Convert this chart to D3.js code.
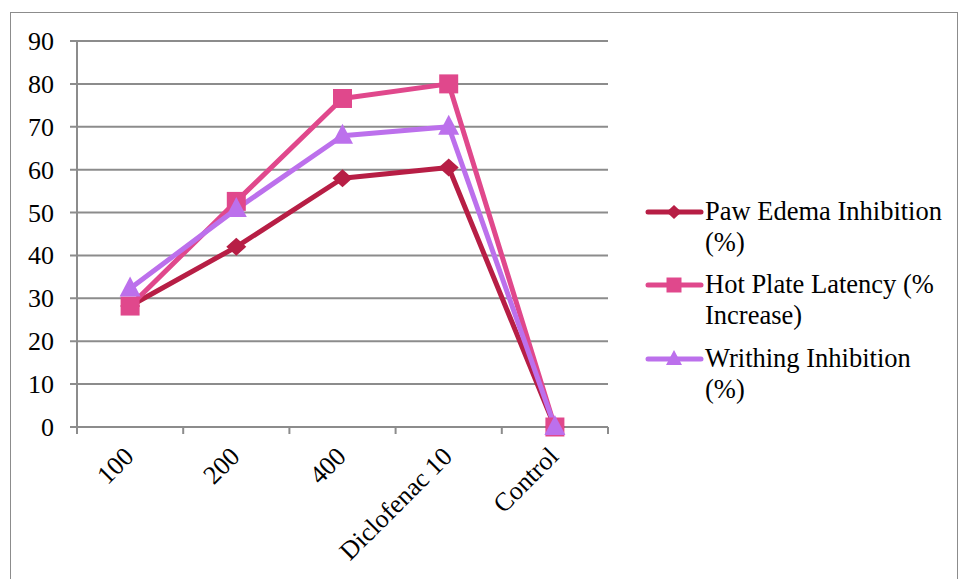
<!DOCTYPE html>
<html><head><meta charset="utf-8">
<script src="https://cdn.jsdelivr.net/npm/d3@7"></script>
<style>body{margin:0;background:#fff}</style>
</head><body><svg id="c" width="960" height="579"></svg>
<script>
const categories = ["100","200","400","Diclofenac 10","Control"];
const pawEdema = [28.2, 42.0, 58.0, 60.5, 0];
const hotPlate = [28.2, 52.6, 76.6, 80.0, 0];
const writhing = [32.3, 50.8, 67.9, 70.0, 0];
const yTicks = [0,10,20,30,40,50,60,70,80,90];
const seriesNames = [["Paw Edema Inhibition","(%)"],["Hot Plate Latency (%","Increase)"],["Writhing Inhibition","(%)"]];
const colors = ["#B71E45","#E0488C","#BC70EC"];
const data = [pawEdema, hotPlate, writhing];
const FF = "'Liberation Serif'";

const diamond = (w,h)=>({draw(c){c.moveTo(0,-h/2);c.lineTo(w/2,0);c.lineTo(0,h/2);c.lineTo(-w/2,0);c.closePath();}});
const square = (w)=>({draw(c){c.rect(-w/2,-w/2,w,w);}});
const tri = (w,h)=>({draw(c){c.moveTo(0,-h*0.6);c.lineTo(w/2,h*0.4);c.lineTo(-w/2,h*0.4);c.closePath();}});
const plotSyms = [diamond(20,18), square(19), tri(21,20)];
const legSyms = [diamond(15,14), square(15), tri(16,15)];

const svg = d3.select("#c");
svg.append("rect").attr("x",10.5).attr("y",12.5).attr("width",947).attr("height",600)
  .attr("fill","none").attr("stroke","#8c8c8c").attr("stroke-width",1);

const x = d3.scaleBand().domain(categories).range([77,608]);
const y = d3.scaleLinear().domain([0,90]).range([427,41]);

svg.append("g").selectAll("line").data(yTicks).join("line")
  .attr("x1",70).attr("x2",608).attr("y1",d=>y(d)).attr("y2",d=>y(d))
  .attr("stroke","#8c8c8c").attr("stroke-width",2);
svg.append("line").attr("x1",77).attr("x2",77).attr("y1",y(90)).attr("y2",y(0))
  .attr("stroke","#8c8c8c").attr("stroke-width",2);
svg.append("g").selectAll("text").data(yTicks).join("text")
  .attr("x",54).attr("y",d=>y(d)+9).attr("text-anchor","end")
  .style("font-family",FF).style("font-size","26px").attr("fill","#000").text(d=>d);
const xt = categories.map(c=>x(c)).concat([x.range()[1]]);
svg.append("g").selectAll("line").data(xt).join("line")
  .attr("x1",d=>d).attr("x2",d=>d).attr("y1",y(0)).attr("y2",y(0)+7)
  .attr("stroke","#8c8c8c").attr("stroke-width",2);
svg.append("g").selectAll("text").data(categories).join("text")
  .attr("transform",d=>`translate(${x(d)+x.bandwidth()/2+5},${y(0)+31}) rotate(-45)`)
  .attr("text-anchor","end").style("font-family",FF).style("font-size","26px").attr("fill","#000").text(d=>d);

const cx = c=>x(c)+x.bandwidth()/2;
data.forEach((vals,i)=>{
  const line = d3.line().x((d,j)=>cx(categories[j])).y(d=>y(d));
  svg.append("path").attr("d",line(vals)).attr("fill","none")
    .attr("stroke",colors[i]).attr("stroke-width",5).attr("stroke-linejoin","round");
});
data.forEach((vals,i)=>{
  svg.append("g").selectAll("path").data(vals).join("path")
    .attr("d",d3.symbol().type(plotSyms[i]))
    .attr("transform",(d,j)=>`translate(${cx(categories[j])},${y(d)})`)
    .attr("fill",colors[i]);
});

const ly = [212,285,359];
seriesNames.forEach((n,i)=>{
  const g = svg.append("g").attr("transform",`translate(0,${ly[i]})`);
  g.append("line").attr("x1",648).attr("x2",701).attr("y1",0).attr("y2",0)
    .attr("stroke",colors[i]).attr("stroke-width",5).attr("stroke-linecap","round");
  g.append("path").attr("d",d3.symbol().type(legSyms[i]))
    .attr("transform",`translate(674,0)`).attr("fill",colors[i]);
  g.append("text").attr("x",705).attr("y",8).style("font-family",FF).style("font-size","26.5px").attr("fill","#000").text(n[0]);
  g.append("text").attr("x",705).attr("y",39).style("font-family",FF).style("font-size","26.5px").attr("fill","#000").text(n[1]);
});
</script></body></html>
